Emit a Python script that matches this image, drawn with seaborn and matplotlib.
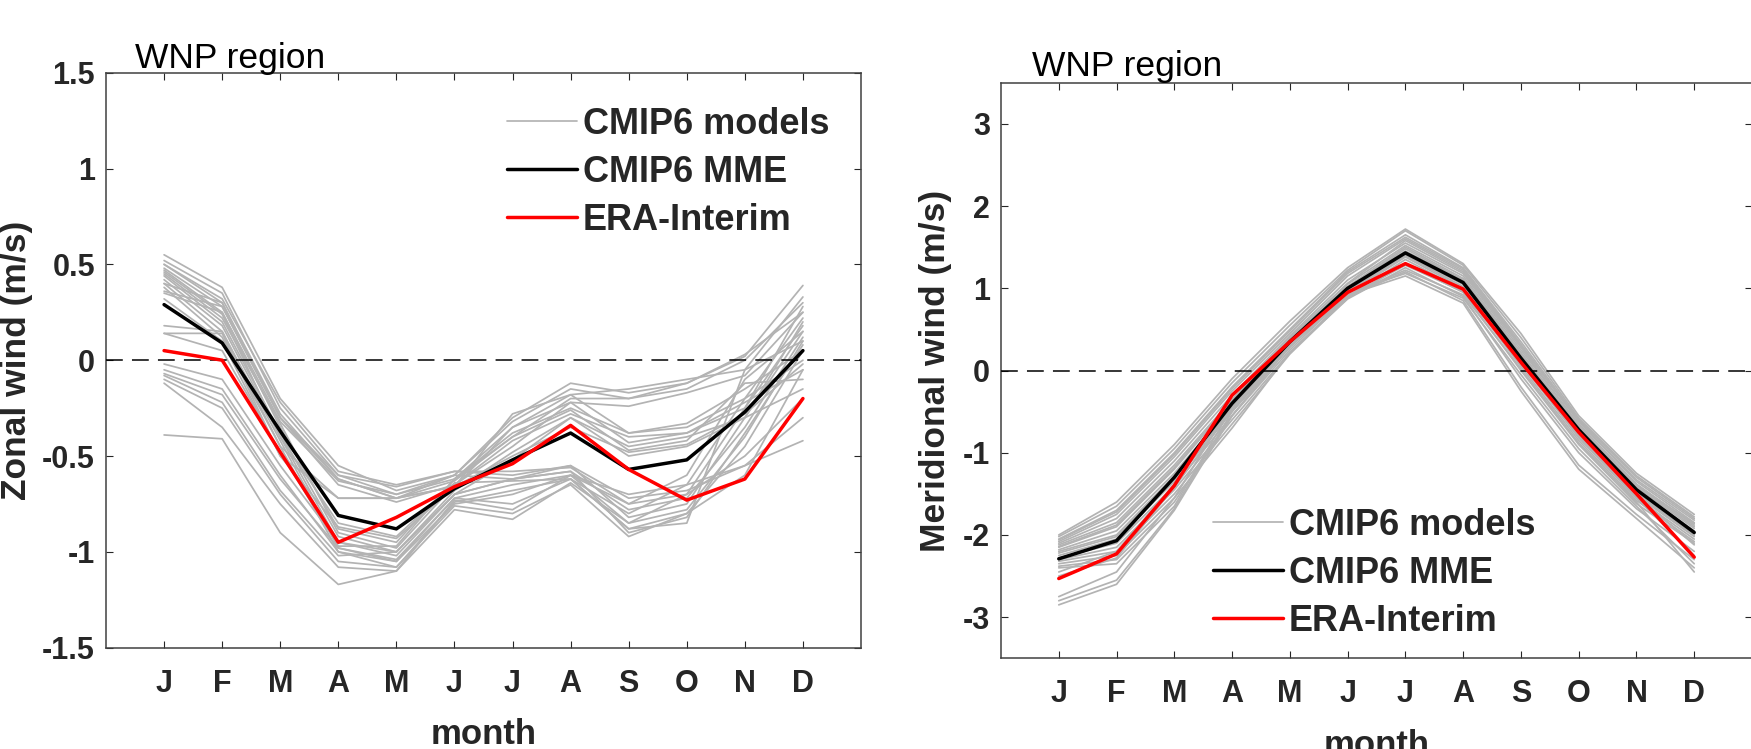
import matplotlib
matplotlib.use("Agg")
import matplotlib.pyplot as plt
import numpy as np
import pandas as pd
import seaborn as sns
from matplotlib.lines import Line2D

# ---------------- data ----------------
months = list(range(1, 13))
month_labels = ["J", "F", "M", "A", "M", "J", "J", "A", "S", "O", "N", "D"]

# Zonal wind (left panel)
zonal_mme = [0.29, 0.09, -0.37, -0.81, -0.88, -0.67, -0.52, -0.38, -0.57, -0.52, -0.27, 0.05]
zonal_era = [0.05, 0.00, -0.48, -0.95, -0.82, -0.66, -0.54, -0.34, -0.57, -0.73, -0.62, -0.20]
zonal_models = [
    [0.55, 0.38, -0.20, -0.55, -0.68, -0.60, -0.30, -0.12, -0.17, -0.12, 0.02, 0.39],
    [0.52, 0.35, -0.25, -0.60, -0.70, -0.62, -0.35, -0.18, -0.15, -0.10, -0.05, 0.33],
    [0.50, 0.30, -0.28, -0.62, -0.72, -0.63, -0.40, -0.20, -0.20, -0.15, 0.00, 0.30],
    [0.48, 0.28, -0.30, -0.65, -0.74, -0.65, -0.45, -0.22, -0.24, -0.17, -0.08, 0.25],
    [0.47, 0.25, -0.35, -0.88, -0.95, -0.62, -0.38, -0.25, -0.38, -0.35, -0.20, 0.22],
    [0.45, 0.22, -0.33, -0.90, -0.98, -0.65, -0.42, -0.28, -0.40, -0.38, -0.25, 0.18],
    [0.44, 0.20, -0.38, -0.92, -1.00, -0.68, -0.48, -0.30, -0.45, -0.40, -0.30, 0.15],
    [0.42, 0.18, -0.40, -0.95, -1.02, -0.70, -0.62, -0.58, -0.78, -0.72, -0.35, 0.12],
    [0.40, 0.15, -0.42, -0.98, -1.05, -0.72, -0.65, -0.60, -0.85, -0.78, -0.40, 0.10],
    [0.38, 0.12, -0.45, -1.00, -1.08, -0.74, -0.68, -0.62, -0.88, -0.80, -0.45, 0.05],
    [0.36, 0.28, -0.30, -0.60, -0.66, -0.58, -0.60, -0.55, -0.82, -0.75, -0.30, 0.20],
    [0.35, 0.25, -0.32, -0.63, -0.70, -0.60, -0.62, -0.58, -0.90, -0.82, -0.38, 0.08],
    [0.50, 0.32, -0.22, -0.58, -0.65, -0.58, -0.58, -0.56, -0.75, -0.70, -0.25, 0.28],
    [0.46, 0.24, -0.40, -0.85, -0.92, -0.64, -0.63, -0.62, -0.80, -0.65, -0.20, 0.00],
    [0.18, 0.15, -0.45, -0.72, -0.72, -0.66, -0.28, -0.18, -0.38, -0.33, -0.15, 0.05],
    [0.14, 0.14, -0.50, -0.87, -0.93, -0.66, -0.35, -0.22, -0.43, -0.38, -0.22, -0.05],
    [0.14, 0.05, -0.48, -0.97, -0.97, -0.62, -0.40, -0.26, -0.47, -0.42, -0.12, -0.10],
    [-0.02, -0.10, -0.55, -0.95, -1.00, -0.70, -0.52, -0.30, -0.50, -0.45, -0.30, -0.15],
    [-0.05, -0.15, -0.60, -1.00, -1.05, -0.75, -0.70, -0.60, -0.75, -0.60, -0.10, 0.15],
    [-0.07, -0.18, -0.62, -0.98, -1.04, -0.72, -0.75, -0.62, -0.88, -0.85, -0.05, 0.10],
    [-0.08, -0.22, -0.68, -1.02, -1.00, -0.70, -0.62, -0.55, -0.72, -0.68, -0.55, -0.30],
    [-0.10, -0.25, -0.70, -1.05, -1.08, -0.76, -0.80, -0.65, -0.92, -0.80, -0.60, -0.05],
    [-0.12, -0.35, -0.75, -1.08, -1.10, -0.78, -0.83, -0.64, -0.85, -0.70, -0.50, -0.20],
    [-0.39, -0.41, -0.90, -1.17, -1.10, -0.73, -0.78, -0.60, -0.70, -0.65, -0.55, -0.42],
    [0.40, 0.30, -0.30, -0.62, -0.72, -0.60, -0.32, -0.15, -0.20, -0.12, 0.03, 0.25],
    [0.32, 0.10, -0.50, -0.72, -0.72, -0.66, -0.50, -0.35, -0.48, -0.44, -0.28, -0.02],
]
zonal_yticks = [-1.5, -1, -0.5, 0, 0.5, 1, 1.5]
zonal_yticklabels = ["-1.5", "-1", "-0.5", "0", "0.5", "1", "1.5"]

# Meridional wind (right panel)
merid_mme = [-2.29, -2.07, -1.30, -0.40, 0.35, 1.00, 1.43, 1.07, 0.15, -0.72, -1.45, -1.97]
merid_era = [-2.53, -2.23, -1.40, -0.30, 0.35, 0.95, 1.30, 0.99, 0.10, -0.75, -1.50, -2.27]
merid_models = [
    [-2.00, -1.60, -0.90, -0.10, 0.60, 1.25, 1.72, 1.30, 0.45, -0.55, -1.25, -1.75],
    [-2.05, -1.70, -1.00, -0.20, 0.50, 1.20, 1.65, 1.25, 0.35, -0.60, -1.30, -1.80],
    [-2.08, -1.75, -1.05, -0.25, 0.45, 1.15, 1.60, 1.22, 0.30, -0.62, -1.35, -1.85],
    [-2.10, -1.80, -1.10, -0.30, 0.42, 1.10, 1.55, 1.18, 0.25, -0.65, -1.38, -1.88],
    [-2.12, -1.85, -1.15, -0.35, 0.40, 1.05, 1.52, 1.15, 0.22, -0.68, -1.40, -1.90],
    [-2.15, -1.90, -1.20, -0.38, 0.38, 1.02, 1.50, 1.12, 0.20, -0.70, -1.42, -1.92],
    [-2.18, -1.95, -1.25, -0.42, 0.35, 1.00, 1.48, 1.10, 0.18, -0.72, -1.45, -1.95],
    [-2.20, -2.00, -1.28, -0.45, 0.33, 0.98, 1.45, 1.08, 0.15, -0.74, -1.47, -1.98],
    [-2.22, -2.02, -1.30, -0.48, 0.30, 0.97, 1.42, 1.05, 0.12, -0.76, -1.50, -2.00],
    [-2.25, -2.05, -1.35, -0.50, 0.28, 0.95, 1.40, 1.02, 0.10, -0.78, -1.52, -2.02],
    [-2.28, -2.10, -1.40, -0.55, 0.25, 0.93, 1.38, 1.00, 0.08, -0.80, -1.55, -2.05],
    [-2.30, -2.15, -1.45, -0.60, 0.22, 0.90, 1.35, 0.98, 0.05, -0.85, -1.58, -2.08],
    [-2.32, -2.20, -1.50, -0.65, 0.20, 0.88, 1.30, 0.95, 0.00, -0.90, -1.62, -2.10],
    [-2.35, -2.25, -1.55, -0.70, 0.22, 0.87, 1.25, 0.90, -0.10, -1.00, -1.68, -2.20],
    [-2.38, -2.30, -1.60, -0.55, 0.30, 0.90, 1.20, 0.85, -0.20, -1.15, -1.75, -2.30],
    [-2.40, -2.35, -1.65, -0.45, 0.35, 0.92, 1.15, 0.82, -0.25, -1.20, -1.80, -2.40],
    [-2.75, -2.45, -1.55, -0.40, 0.38, 0.95, 1.18, 0.88, -0.05, -0.95, -1.65, -2.35],
    [-2.80, -2.55, -1.68, -0.50, 0.32, 0.92, 1.22, 0.92, 0.02, -0.88, -1.60, -2.45],
    [-2.85, -2.60, -1.70, -0.55, 0.30, 0.90, 1.28, 0.96, 0.10, -0.82, -1.55, -2.25],
    [-2.02, -1.65, -0.95, -0.15, 0.55, 1.22, 1.70, 1.28, 0.40, -0.58, -1.28, -1.78],
    [-2.06, -1.72, -1.02, -0.22, 0.48, 1.18, 1.62, 1.24, 0.32, -0.62, -1.33, -1.82],
    [-2.14, -1.88, -1.18, -0.36, 0.40, 1.06, 1.58, 1.20, 0.28, -0.66, -1.40, -1.86],
    [-2.45, -2.20, -1.38, -0.42, 0.36, 1.02, 1.45, 1.10, 0.20, -0.74, -1.48, -2.00],
    [-2.50, -2.28, -1.42, -0.48, 0.30, 0.96, 1.40, 1.05, 0.12, -0.78, -1.52, -2.12],
]
merid_yticks = [-3, -2, -1, 0, 1, 2, 3]
merid_yticklabels = ["-3", "-2", "-1", "0", "1", "2", "3"]

legend_labels = ["CMIP6 models", "CMIP6 MME", "ERA-Interim"]

# ---------------- style ----------------
sns.set_theme(style="white")
plt.rcParams["font.family"] = ["Liberation Sans", "DejaVu Sans"]
plt.rcParams["axes.unicode_minus"] = False

GRAY = "#b3b3b3"
DARK = "#262626"

W, H = 1751, 749
fig = plt.figure(figsize=(W / 100, H / 100), dpi=100)
ax1 = fig.add_axes([106 / W, 1 - 647.7 / H, 755 / W, 575 / H])
ax2 = fig.add_axes([1001 / W, 1 - 658.3 / H, 751 / W, 575.6 / H])


def models_frame(models):
    rows = []
    for i, series in enumerate(models):
        for m, v in zip(months, series):
            rows.append({"model": i, "month": m, "value": v})
    return pd.DataFrame(rows)


def draw(ax, models, mme, era, ylim, yticks, yticklabels, ylabel, ylabel_x,
         title_xy, legend_anchor):
    dfm = models_frame(models)
    sns.lineplot(data=dfm, x="month", y="value", units="model", estimator=None,
                 color=GRAY, linewidth=1.25, ax=ax, legend=False, zorder=2)
    ax.axhline(0, color="black", linewidth=1.1, dashes=(11, 6), zorder=3)
    sns.lineplot(x=months, y=mme, color="black", linewidth=2.5, ax=ax, zorder=4)
    sns.lineplot(x=months, y=era, color="red", linewidth=2.5, ax=ax, zorder=5)

    ax.set_xlim(0, 13)
    ax.set_ylim(*ylim)
    ax.set_xticks(months)
    ax.set_xticklabels(month_labels, fontweight="bold", fontsize=22, color=DARK)
    ax.set_yticks(yticks)
    ax.set_yticklabels(yticklabels, fontweight="bold", fontsize=22, color=DARK)
    ax.tick_params(axis="both", direction="in", length=5, width=0.8, color=DARK,
                   top=True, right=True, bottom=True, left=True)
    ax.tick_params(axis="x", pad=15)
    ax.tick_params(axis="y", pad=8)
    for s in ax.spines.values():
        s.set_color("#404040")
        s.set_linewidth(1.1)
        s.set_visible(True)

    ax.set_xlabel("month", fontsize=25, fontweight="bold", color=DARK)
    ax.xaxis.set_label_coords(0.5, -0.122)
    ax.set_ylabel(ylabel, fontsize=25.5, fontweight="bold", color=DARK)
    ax.yaxis.set_label_coords(ylabel_x, 0.5)

    ax.text(title_xy[0], title_xy[1], "WNP region", transform=ax.transAxes,
            fontsize=25.5, ha="left", va="baseline", color="black")

    handles = [Line2D([], [], color=GRAY, linewidth=1.25),
               Line2D([], [], color="black", linewidth=2.5),
               Line2D([], [], color="red", linewidth=2.5)]
    ax.legend(handles, legend_labels, loc="upper left", bbox_to_anchor=legend_anchor,
              frameon=False, borderpad=0, borderaxespad=0, handlelength=1.95,
              handletextpad=0.15, labelspacing=0.36,
              prop={"weight": "bold", "size": 26})


draw(ax1, zonal_models, zonal_mme, zonal_era, (-1.5, 1.5), zonal_yticks,
     zonal_yticklabels, "Zonal wind (m/s)", -0.097, (0.0384, 1.0077),
     (0.5307, 0.941))
draw(ax2, merid_models, merid_mme, merid_era, (-3.5, 3.5), merid_yticks,
     merid_yticklabels, "Meridional wind (m/s)", -0.065, (0.041, 1.0116),
     (0.2823, 0.2616))

fig.savefig("out.png", dpi=100, facecolor="white")
